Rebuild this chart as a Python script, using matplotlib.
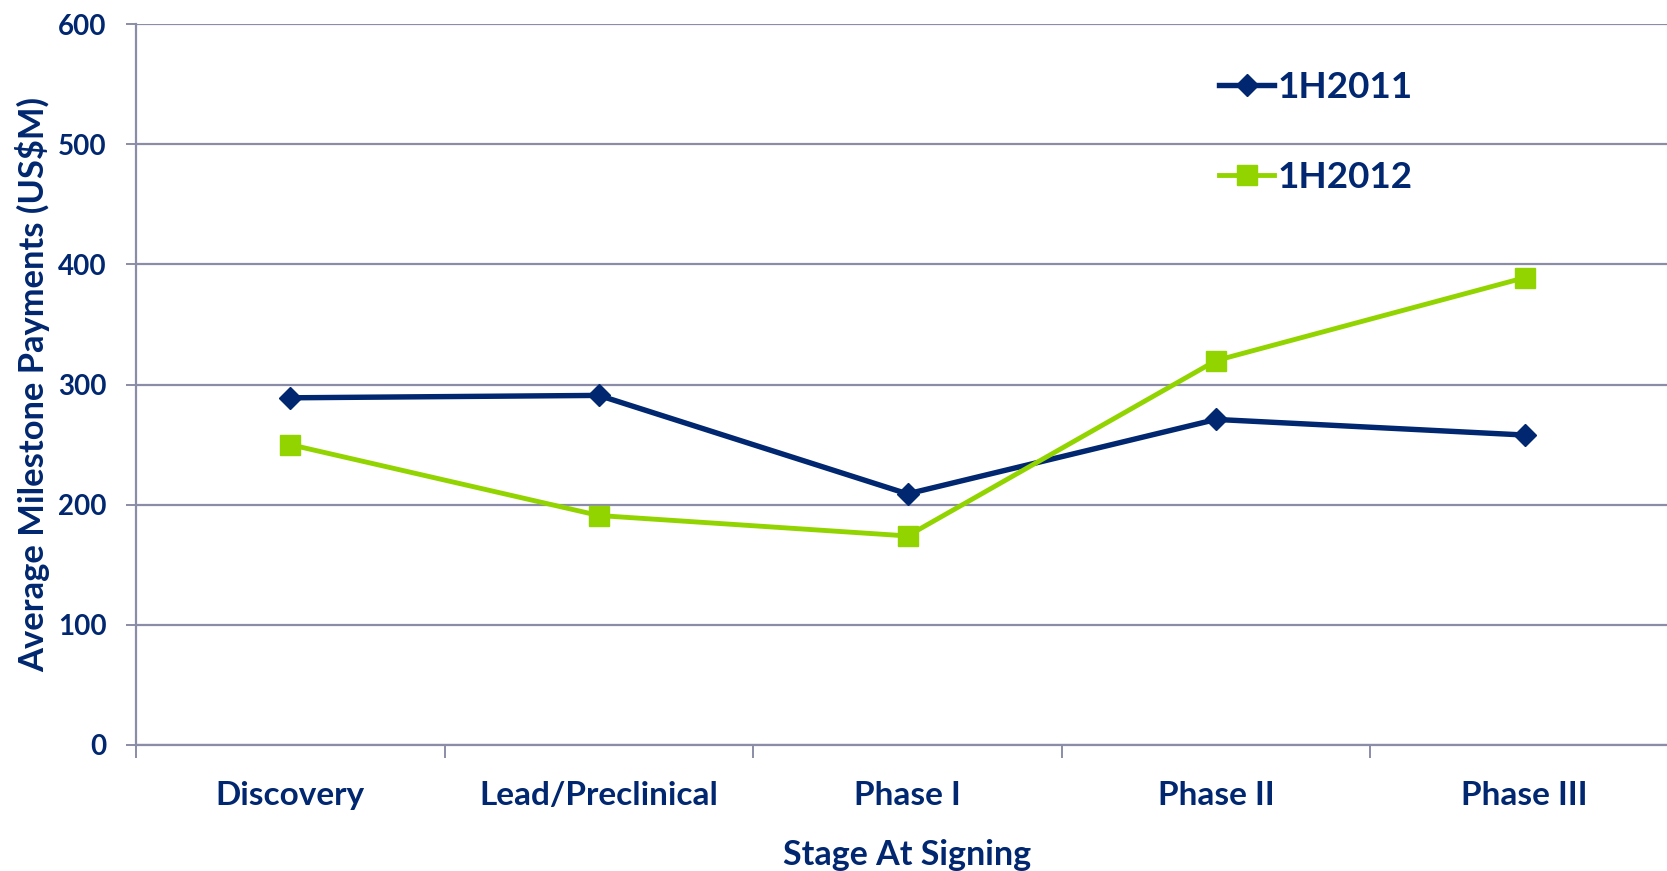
import matplotlib
matplotlib.use('Agg')

import matplotlib.pyplot as plt
import numpy as np


# ===============================
# DATA
# ===============================
stages = ["Discovery", "Lead/Preclinical", "Phase I", "Phase II", "Phase III"]
payments_1h2011 = [289, 291, 209, 271, 258]
payments_1h2012 = [250, 191, 174, 320, 389]
y_ticks = [0, 100, 200, 300, 400, 500, 600]

# ===============================
# STYLE
# ===============================
navy = '#00276f'
green = '#92d400'
grid_col = '#8b8da8'
plt.rcParams['font.family'] = ['Lato', 'DejaVu Sans']
plt.rcParams['font.weight'] = 'bold'
plt.rcParams['axes.labelweight'] = 'bold'

fig = plt.figure(figsize=(16.67, 8.71), dpi=100)
ax = fig.add_axes([0.0816, 0.1447, 0.9256, 0.8275])

x = np.arange(len(stages))

ax.plot(x, payments_1h2011, '-', marker='D', color=navy, linewidth=3.9,
        markersize=11, label='1H2011', zorder=3)
ax.plot(x, payments_1h2012, '-', marker='s', color=green, linewidth=3.5,
        markersize=14.5, label='1H2012', zorder=3)

ax.set_xlim(-0.5, len(stages) - 0.5)
ax.set_ylim(0, 600)

# y axis
ax.set_yticks(y_ticks)
ax.yaxis.grid(True, color=grid_col, linewidth=1.6)
ax.set_axisbelow(True)
ax.tick_params(axis='y', length=7, width=1.4, color=grid_col, pad=14,
               labelsize=20, labelcolor=navy)

# x axis: labels at the centres, tick marks on the category boundaries
ax.set_xticks(x)
ax.set_xticklabels(stages)
ax.set_xticks(np.arange(len(stages) + 1) - 0.5, minor=True)
ax.tick_params(axis='x', which='major', length=0, pad=26,
               labelsize=24, labelcolor=navy)
ax.tick_params(axis='x', which='minor', length=9, width=1.4, color=grid_col)

for side in ['top', 'right']:
    ax.spines[side].set_visible(False)
ax.spines['left'].set_color(grid_col)
ax.spines['left'].set_linewidth(1.6)
ax.spines['bottom'].set_color(grid_col)
ax.spines['bottom'].set_linewidth(1.6)

ax.set_xlabel("Stage At Signing", fontsize=24.5, color=navy, labelpad=21)
ax.set_ylabel("Average Milestone Payments (US$M)", fontsize=24.8, color=navy,
              labelpad=6)

leg = ax.legend(loc='upper left', bbox_to_anchor=(0.7313, 0.919),
                bbox_transform=fig.transFigure, frameon=False, fontsize=26.5,
                handlelength=1.5, handletextpad=0.1, labelspacing=1.55,
                borderpad=0, borderaxespad=0)
for t in leg.get_texts():
    t.set_color(navy)

plt.savefig("out.png", dpi=100)
plt.close()
